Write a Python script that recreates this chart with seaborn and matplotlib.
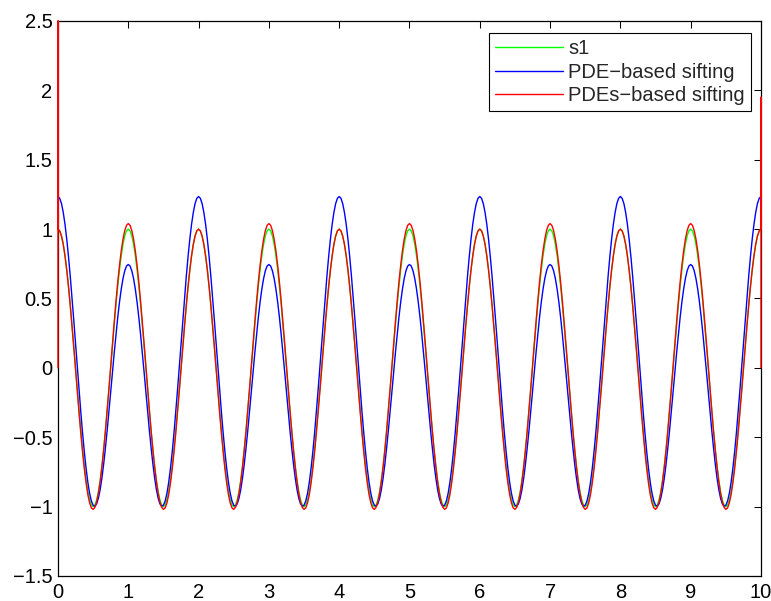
import numpy as np
import pandas as pd
import seaborn as sns
import matplotlib.pyplot as plt

# one cycle of s1 (step 0.025)
s1_cycle = [1.000, 0.988, 0.951, 0.891, 0.809, 0.707, 0.588, 0.454, 0.309, 0.156,
            0.000, -0.156, -0.309, -0.454, -0.588, -0.707, -0.809, -0.891, -0.951, -0.988,
            -1.000, -0.988, -0.951, -0.891, -0.809, -0.707, -0.588, -0.454, -0.309, -0.156,
            0.000, 0.156, 0.309, 0.454, 0.588, 0.707, 0.809, 0.891, 0.951, 0.988]

# PDE-based sifting, one 2-unit period (step 0.025)
pde_period = [1.235, 1.222, 1.184, 1.120, 1.034, 0.926, 0.800, 0.658, 0.504, 0.341,
              0.173, 0.004, -0.162, -0.321, -0.471, -0.606, -0.725, -0.825, -0.904, -0.959,
              -0.990, -0.997, -0.980, -0.939, -0.877, -0.794, -0.693, -0.577, -0.450, -0.314,
              -0.173, -0.031, 0.108, 0.240, 0.364, 0.474, 0.568, 0.644, 0.700, 0.734,
              0.745, 0.734, 0.700, 0.644, 0.568, 0.474, 0.364, 0.240, 0.108, -0.031,
              -0.173, -0.314, -0.450, -0.577, -0.693, -0.794, -0.877, -0.939, -0.980, -0.997,
              -0.990, -0.959, -0.904, -0.825, -0.725, -0.606, -0.471, -0.321, -0.162, 0.004,
              0.173, 0.341, 0.504, 0.658, 0.800, 0.926, 1.034, 1.120, 1.184, 1.222]

# PDEs-based sifting, one 2-unit period (step 0.025)
pdes_period = [1.000, 0.987, 0.950, 0.890, 0.806, 0.703, 0.582, 0.446, 0.299, 0.145,
               -0.014, -0.173, -0.327, -0.473, -0.609, -0.729, -0.831, -0.914, -0.973, -1.009,
               -1.020, -1.005, -0.967, -0.904, -0.819, -0.713, -0.591, -0.453, -0.303, -0.147,
               0.014, 0.175, 0.331, 0.480, 0.618, 0.739, 0.844, 0.928, 0.990, 1.027,
               1.040, 1.027, 0.990, 0.928, 0.844, 0.739, 0.618, 0.480, 0.331, 0.175,
               0.014, -0.147, -0.303, -0.453, -0.591, -0.713, -0.819, -0.904, -0.967, -1.005,
               -1.020, -1.009, -0.973, -0.914, -0.831, -0.729, -0.609, -0.473, -0.327, -0.173,
               -0.014, 0.145, 0.299, 0.446, 0.582, 0.703, 0.806, 0.890, 0.950, 0.987]

# end effects of the PDEs curve at t=0 and t=10
pdes_start_y = [0.0, 2.5]
pdes_end_y = [1.95, 0.0]

t = np.arange(401) * 0.025
s1 = np.append(np.tile(s1_cycle, 10), s1_cycle[0])
pde = np.append(np.tile(pde_period, 5), pde_period[0])
pdes = np.append(np.tile(pdes_period, 5), pdes_period[0])

t_red = np.concatenate([[0.0, 0.0], t, [10.0, 10.0]])
y_red = np.concatenate([pdes_start_y, pdes, pdes_end_y])

sns.set_style("white")
plt.rcParams['font.family'] = ['Liberation Sans', 'DejaVu Sans']

fig = plt.figure(figsize=(7.71, 6.01), dpi=100)
ax = fig.add_axes([0.0752, 0.0416, 0.9118, 0.9235])

sns.lineplot(x=t, y=s1, color=(0, 1, 0), lw=1.0, label='s1', ax=ax,
             estimator=None, sort=False, zorder=3)
sns.lineplot(x=t, y=pde, color=(0, 0, 1), lw=1.0, label='PDE\u2212based sifting', ax=ax,
             estimator=None, sort=False, zorder=3)
sns.lineplot(x=t_red, y=y_red, color=(1, 0, 0), lw=1.0, label='PDEs\u2212based sifting', ax=ax,
             estimator=None, sort=False, zorder=3)
for ln in ax.lines:
    ln.set_clip_on(False)

ax.set_xlim(0, 10)
ax.set_ylim(-1.5, 2.5)
ax.set_xticks(range(11))
yt = [-1.5, -1, -0.5, 0, 0.5, 1, 1.5, 2, 2.5]
ax.set_yticks(yt)
ax.set_yticklabels(['\u22121.5', '\u22121', '\u22120.5', '0', '0.5', '1', '1.5', '2', '2.5'])
ax.tick_params(direction='in', length=5, width=0.75, top=True, right=True,
               labelsize=14.5, colors='black')
ax.tick_params(axis='x', pad=5)
ax.tick_params(axis='y', pad=4)
for s in ax.spines.values():
    s.set_visible(True)
    s.set_color('black')
    s.set_linewidth(0.9)

leg = ax.legend(loc='upper right', bbox_to_anchor=(0.986, 0.978), borderaxespad=0,
                fontsize=14.5, handlelength=3.4, handletextpad=0.25, labelspacing=0.22,
                borderpad=0.3, fancybox=False, frameon=True, framealpha=1)
leg.get_frame().set_edgecolor('black')
leg.get_frame().set_linewidth(0.8)

fig.savefig('out.png', dpi=100)
